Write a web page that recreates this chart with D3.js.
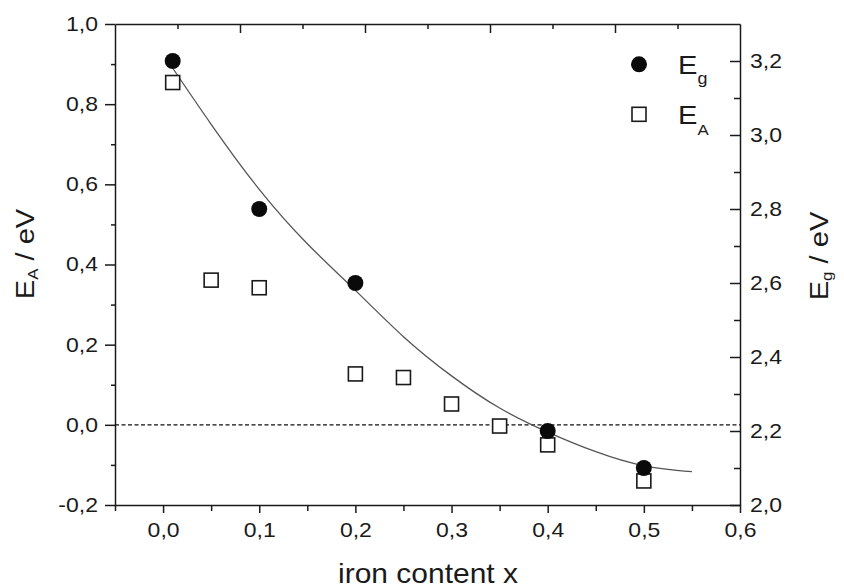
<!DOCTYPE html>
<html>
<head>
<meta charset="utf-8">
<script src="https://cdn.jsdelivr.net/npm/d3@7"></script>
<style>
  html, body { margin: 0; padding: 0; background: #fff; }
  svg { display: block; font-family: "Liberation Sans", Arial, sans-serif; }
  .axis path, .axis line { stroke: #1a1a1a; stroke-width: 1.5; }
  .axis text { fill: #1a1a1a; font-size: 20px; font-family: "Liberation Sans", Arial, sans-serif; }
</style>
</head>
<body>
<svg id="chart" width="844" height="588"></svg>
<script>
// Band gap Eg (right axis) and activation energy EA (left axis) vs. iron content x
const egX   = [0.01, 0.1, 0.2, 0.4, 0.5];
const egVal = [3.20, 2.80, 2.60, 2.20, 2.10];

const eaX   = [0.01, 0.05, 0.1, 0.2, 0.25, 0.3, 0.35, 0.4, 0.5];
const eaVal = [0.854, 0.361, 0.342, 0.127, 0.118, 0.052, -0.003, -0.05, -0.14];

// Fitted Eg curve (sampled)
const fitX  = [0.005, 0.05, 0.10, 0.15, 0.20, 0.25, 0.30, 0.35, 0.40, 0.45, 0.50, 0.55];
const fitEg = [3.20, 3.029, 2.853, 2.706, 2.580, 2.455, 2.349, 2.262, 2.197, 2.144, 2.106, 2.090];

const xTicks      = [0.0, 0.1, 0.2, 0.3, 0.4, 0.5, 0.6];
const xMinorTicks = [-0.05, 0.05, 0.15, 0.25, 0.35, 0.45, 0.55];
const leftTicks      = [-0.2, 0.0, 0.2, 0.4, 0.6, 0.8, 1.0];
const leftMinorTicks = [-0.1, 0.1, 0.3, 0.5, 0.7, 0.9];
const rightTicks      = [2.0, 2.2, 2.4, 2.6, 2.8, 3.0, 3.2];
const rightMinorTicks = [2.1, 2.3, 2.5, 2.7, 2.9, 3.1];
const topTicks      = [2, 4, 6, 8];
const topMinorTicks = [1, 3, 5, 7, 9];

const xLabel = "iron content x";
const legendLabels = [{main: "E", sub: "g"}, {main: "E", sub: "A"}];

const svg = d3.select("#chart");
const L = 115, R = 740, T = 24, B = 505;

const x   = d3.scaleLinear().domain([-0.05, 0.6]).range([L, R]);
const yL  = d3.scaleLinear().domain([-0.2, 1.0]).range([B, T]);
const yR  = d3.scaleLinear().domain([2.0, 3.3]).range([B, T]);
const xTop = d3.scaleLinear().domain([0, 10]).range([L, R]);

const fmt = v => v.toFixed(1).replace(".", ",");
const SX = 1.15;

// Axes
const gBottom = svg.append("g").attr("class", "axis").attr("transform", `translate(0,${B})`);
gBottom.call(d3.axisBottom(x).tickValues(xTicks).tickFormat(fmt).tickSizeInner(8).tickSizeOuter(0).tickPadding(10));
gBottom.selectAll(".tick text").attr("transform", `scale(${SX},1)`);
svg.append("g").attr("class", "axis").attr("transform", `translate(0,${B})`)
  .call(d3.axisBottom(x).tickValues(xMinorTicks).tickFormat("").tickSizeInner(6).tickSizeOuter(0))
  .select(".domain").remove();

const gLeft = svg.append("g").attr("class", "axis").attr("transform", `translate(${L},0)`);
gLeft.call(d3.axisLeft(yL).tickValues(leftTicks).tickFormat(fmt).tickSizeInner(10).tickSizeOuter(0).tickPadding(7));
gLeft.selectAll(".tick text").attr("x", -17 / SX).attr("transform", `scale(${SX},1)`);
svg.append("g").attr("class", "axis").attr("transform", `translate(${L},0)`)
  .call(d3.axisLeft(yL).tickValues(leftMinorTicks).tickFormat("").tickSizeInner(4).tickSizeOuter(0))
  .select(".domain").remove();

const gRight = svg.append("g").attr("class", "axis").attr("transform", `translate(${R},0)`);
gRight.call(d3.axisRight(yR).tickValues(rightTicks).tickFormat(fmt).tickSizeInner(-10).tickSizeOuter(0).tickPadding(10));
gRight.selectAll(".tick text").attr("x", 10 / SX).attr("transform", `scale(${SX},1)`);
svg.append("g").attr("class", "axis").attr("transform", `translate(${R},0)`)
  .call(d3.axisRight(yR).tickValues(rightMinorTicks).tickFormat("").tickSizeInner(-6).tickSizeOuter(0))
  .select(".domain").remove();

const gTop = svg.append("g").attr("class", "axis").attr("transform", `translate(0,${T})`);
gTop.call(d3.axisTop(xTop).tickValues(topTicks).tickFormat("").tickSizeInner(-9).tickSizeOuter(0));
svg.append("g").attr("class", "axis").attr("transform", `translate(0,${T})`)
  .call(d3.axisTop(xTop).tickValues(topMinorTicks).tickFormat("").tickSizeInner(-5).tickSizeOuter(0))
  .select(".domain").remove();

// Zero line for EA
svg.append("line")
  .attr("x1", L).attr("x2", R)
  .attr("y1", yL(0)).attr("y2", yL(0))
  .attr("stroke", "#111").attr("stroke-width", 1.3)
  .attr("stroke-dasharray", "4,2.5");

// Fit curve
const fitData = fitX.map((d, i) => [d, fitEg[i]]);
svg.append("path")
  .datum(fitData)
  .attr("fill", "none")
  .attr("stroke", "#555")
  .attr("stroke-width", 1.3)
  .attr("d", d3.line().x(d => x(d[0])).y(d => yR(d[1])).curve(d3.curveNatural));

// EA: open squares
const SQ = 14;
svg.append("g").selectAll("rect")
  .data(eaX.map((d, i) => [d, eaVal[i]]))
  .join("rect")
  .attr("x", d => x(d[0]) - SQ / 2)
  .attr("y", d => yL(d[1]) - SQ / 2)
  .attr("width", SQ).attr("height", SQ)
  .attr("fill", "#fff").attr("stroke", "#1a1a1a").attr("stroke-width", 1.6);

// Eg: filled circles
svg.append("g").selectAll("circle")
  .data(egX.map((d, i) => [d, egVal[i]]))
  .join("circle")
  .attr("cx", d => x(d[0]))
  .attr("cy", d => yR(d[1]))
  .attr("r", 8)
  .attr("fill", "#0a0a0a");

// Legend
svg.append("circle").attr("cx", 639).attr("cy", 64.3).attr("r", 8).attr("fill", "#0a0a0a");
svg.append("rect").attr("x", 639 - SQ / 2).attr("y", 114.3 - SQ / 2).attr("width", SQ).attr("height", SQ)
  .attr("fill", "#fff").attr("stroke", "#1a1a1a").attr("stroke-width", 1.6);

function subLabel(parent, tx, ty, item, size, subSize, subDy, scale, anchor) {
  const t = parent.append("text")
    .attr("transform", `translate(${tx},${ty}) scale(${scale},1)`)
    .attr("text-anchor", anchor || "start")
    .attr("fill", "#1a1a1a")
    .style("font-size", size + "px");
  t.append("tspan").text(item.main);
  t.append("tspan").attr("dy", subDy).style("font-size", subSize + "px").text(item.sub);
  return t;
}
subLabel(svg, 678, 74, legendLabels[0], 26, 16, 10, 1.12);
subLabel(svg, 678, 124, legendLabels[1], 26, 15, 11, 1.12);

// Axis titles
svg.append("text")
  .attr("transform", `translate(428,583) scale(1.11,1)`)
  .attr("text-anchor", "middle")
  .attr("fill", "#1a1a1a")
  .style("font-size", "27px")
  .text(xLabel);

function axisTitle(cx, cy, subText) {
  const g = svg.append("g").attr("transform", `translate(${cx},${cy}) rotate(-90)`);
  const t = g.append("text")
    .attr("transform", `scale(1.12,1)`)
    .attr("text-anchor", "middle")
    .attr("fill", "#1a1a1a")
    .style("font-size", "26px");
  t.append("tspan").text("E");
  t.append("tspan").attr("dy", 4).style("font-size", "15px").text(subText);
  t.append("tspan").attr("dy", -4).text(" / eV");
}
axisTitle(33.5, 254, "A");
axisTitle(828, 256, "g");
</script>
</body>
</html>
